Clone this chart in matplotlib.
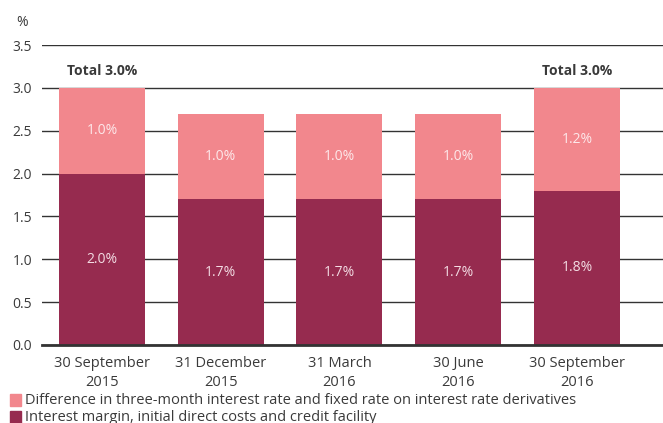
import matplotlib
matplotlib.use("Agg")
import matplotlib.pyplot as plt
from matplotlib.patches import Rectangle

plt.rcParams['font.family'] = ['Open Sans', 'DejaVu Sans']

periods = ["30 September\n2015", "31 December\n2015", "31 March\n2016", "30 June\n2016", "30 September\n2016"]
margin = [2.0, 1.7, 1.7, 1.7, 1.8]
diff = [1.0, 1.0, 1.0, 1.0, 1.2]
totals = {0: "Total 3.0%", 4: "Total 3.0%"}
legend_labels = ["Difference in three-month interest rate and fixed rate on interest rate derivatives",
                 "Interest margin, initial direct costs and credit facility"]

pink = "#f2878d"
dark = "#962b4f"
txt = "#3a3a3a"

fig = plt.figure(figsize=(6.63, 4.23), dpi=100)
ax = fig.add_axes([0.0633, 0.1844, 0.9367, 0.7092])

x = list(range(len(periods)))
ax.bar(x, margin, width=0.725, color=dark, zorder=3)
ax.bar(x, diff, bottom=margin, width=0.725, color=pink, zorder=3)

for i in x:
    ax.text(i, margin[i] / 2, f"{margin[i]:.1f}%", ha="center", va="center",
            color="#f3dce3", fontsize=10, zorder=4)
    ax.text(i, margin[i] + diff[i] / 2, f"{diff[i]:.1f}%", ha="center", va="center",
            color="#fde8ea", fontsize=10, zorder=4)
for i, t in totals.items():
    ax.text(i, margin[i] + diff[i] + 0.2, t, ha="center", va="center",
            color=txt, fontsize=10, fontweight="bold", zorder=4)

ax.set_ylim(0, 3.5)
ax.set_xlim(-0.505, 4.725)
ax.set_yticks([0, 0.5, 1.0, 1.5, 2.0, 2.5, 3.0, 3.5])
ax.set_yticklabels([f"{v:.1f}" for v in ax.get_yticks()], fontsize=10, color=txt)
ax.set_xticks(x)
ax.set_xticklabels(periods, fontsize=10.5, color=txt, linespacing=1.35)
ax.tick_params(axis="both", length=0)
ax.tick_params(axis="x", pad=8)
ax.tick_params(axis="y", pad=7)
ax.grid(axis="y", color="#333333", linewidth=1.0, zorder=1)
for s in ["top", "right", "left"]:
    ax.spines[s].set_visible(False)
ax.spines["bottom"].set_color("#333333")
ax.spines["bottom"].set_linewidth(2)
ax.spines["bottom"].set_zorder(5)

fig.text(22 / 663, 1 - 22 / 423, "%", fontsize=10, color=txt, ha="center", va="center")

for j, (lab, col) in enumerate(zip(legend_labels, [pink, dark])):
    yc = 400 + j * 17
    fig.patches.append(Rectangle((10 / 663, 1 - (yc + 6) / 423), 11 / 663, 12 / 423,
                                 transform=fig.transFigure, color=col, figure=fig))
    fig.text(25 / 663, 1 - yc / 423, lab, fontsize=10.5, color=txt, va="center", ha="left")

fig.savefig("out.png", dpi=100)
